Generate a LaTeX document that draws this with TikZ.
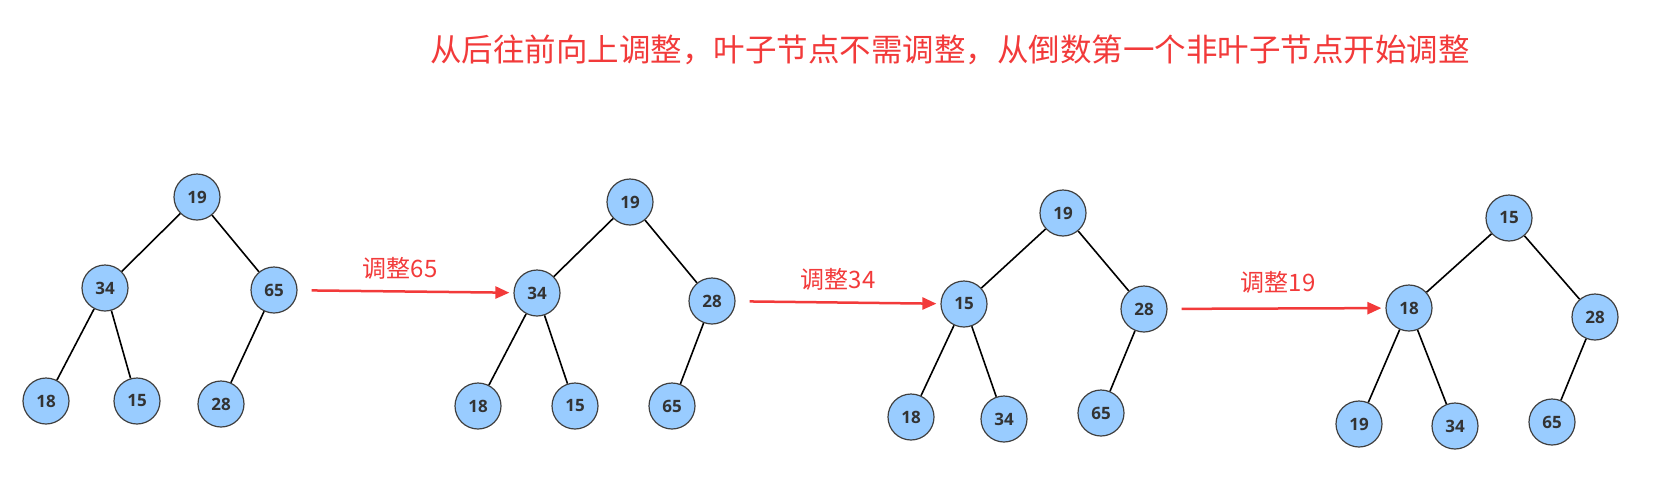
\documentclass[tikz,border=0pt]{standalone}
\usepackage{fontspec}
\setmainfont{Open Sans}
\newfontfamily\cjk{Noto Sans CJK SC}
\usetikzlibrary{arrows.meta}
\definecolor{heapblue}{HTML}{99CCFF}
\definecolor{heapred}{HTML}{F23A3A}
\tikzset{
  heapnode/.style={circle,draw=black!75,line width=1.2pt,fill=heapblue,minimum size=46pt,inner sep=0pt,font=\fontsize{17}{17}\selectfont\bfseries,text=black!80},
  edge/.style={line width=1.6pt},
  step arrow/.style={heapred,line width=2.5pt,shorten <=14pt,shorten >=4pt,-{Triangle[length=14pt,width=12pt]}},
  steplabel/.style={heapred,font=\cjk\fontsize{24}{24}\selectfont}
}
\begin{document}
\begin{tikzpicture}[x=1pt,y=-1pt]
  \useasboundingbox (0,0) rectangle (1675,493);
  \node[heapred,font=\cjk\fontsize{31.5}{31.5}\selectfont] (title) at (950,50) {从后往前向上调整，叶子节点不需调整，从倒数第一个非叶子节点开始调整};

  % tree 1
  \node[heapnode] (a1) at (197,197) {19};
  \node[heapnode] (a2) at (105,288) {34};
  \node[heapnode] (a3) at (274,290) {65};
  \node[heapnode] (a4) at (46,401) {18};
  \node[heapnode] (a5) at (137,401) {15};
  \node[heapnode] (a6) at (221,404) {28};

  % tree 2
  \node[heapnode] (b1) at (630,202) {19};
  \node[heapnode] (b2) at (537,293) {34};
  \node[heapnode] (b3) at (712,301) {28};
  \node[heapnode] (b4) at (478,406) {18};
  \node[heapnode] (b5) at (575,406) {15};
  \node[heapnode] (b6) at (672,406) {65};

  % tree 3
  \node[heapnode] (c1) at (1063,213) {19};
  \node[heapnode] (c2) at (964,304) {15};
  \node[heapnode] (c3) at (1144,309) {28};
  \node[heapnode] (c4) at (911,417) {18};
  \node[heapnode] (c5) at (1004,419) {34};
  \node[heapnode] (c6) at (1101,413) {65};

  % tree 4
  \node[heapnode] (d1) at (1509,218) {15};
  \node[heapnode] (d2) at (1409,308) {18};
  \node[heapnode] (d3) at (1595,317) {28};
  \node[heapnode] (d4) at (1359,424) {19};
  \node[heapnode] (d5) at (1455,426) {34};
  \node[heapnode] (d6) at (1552,422) {65};

  \foreach \t in {a,b,c,d}{
    \draw[edge] (\t1) -- (\t2);
    \draw[edge] (\t1) -- (\t3);
    \draw[edge] (\t2) -- (\t4);
    \draw[edge] (\t2) -- (\t5);
    \draw[edge] (\t3) -- (\t6);
  }

  \draw[step arrow] (a3) -- (b2);
  \draw[step arrow] (b3) -- (c2);
  \draw[step arrow] (c3) -- (d2);
  \node[steplabel] (l1) at (400,268) {调整65};
  \node[steplabel] (l2) at (838,279) {调整34};
  \node[steplabel] (l3) at (1278,282) {调整19};
\end{tikzpicture}
\end{document}
